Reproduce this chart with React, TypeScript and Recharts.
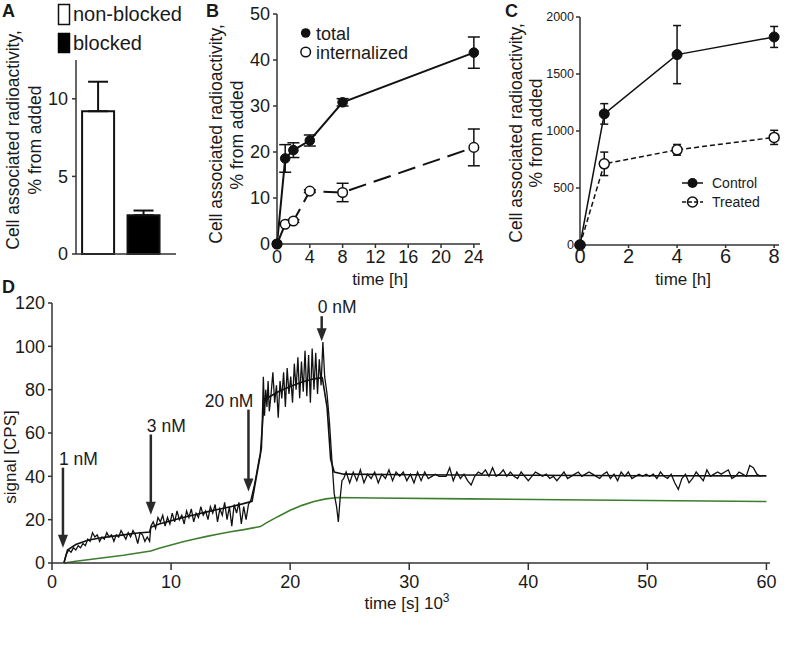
import React from 'react';
import { BarChart, Bar, Cell, ErrorBar, XAxis, YAxis, LineChart, Line, ReferenceLine } from 'recharts';

const FONT = '"Liberation Sans", Arial, Helvetica, sans-serif';
const INK = '#1a1a1a';
const AXIS = '#333333';

// ---------- Panel A ----------
const groupsA = ['non-blocked', 'blocked'];
const slotA = [1, 2];
const uptakeA = [9.2, 2.5];
const upperErrA = [1.9, 0.3];
const fillsA = ['#ffffff', '#000000'];

// ---------- Panel B ----------
const timeB = [0, 1, 2, 4, 8, 24];
const totalB = [0, 18.6, 20.4, 22.5, 30.8, 41.6];
const totalErrB = [0, 3.0, 1.6, 1.2, 0.8, 3.4];
const internalB = [0, 4.3, 5.0, 11.5, 11.2, 21.0];
const internalErrB = [0, 0.2, 0.3, 0.3, 2.0, 4.0];

// ---------- Panel C ----------
const timeC = [0, 1, 4, 8];
const controlC = [0, 1150, 1670, 1825];
const controlErrC = [0, 90, 255, 92];
const treatedC = [0, 712, 835, 944];
const treatedErrC = [0, 103, 47, 62];

// ---------- Panel D (time in 10^3 s, signal in CPS) ----------
const rawD: [number, number][] = [
  [1.0, 0], [1.2, 4], [1.4, 6], [1.6, 5], [1.8, 7], [2.0, 6], [2.2, 8], [2.4, 7], [2.6, 9], [2.8, 8],
  [3.0, 11], [3.2, 10], [3.4, 14], [3.6, 12], [3.8, 13], [4.0, 10], [4.2, 12], [4.4, 11], [4.6, 14], [4.8, 12],
  [5.0, 13], [5.2, 10], [5.4, 13], [5.6, 12], [5.8, 15], [6.0, 13], [6.2, 11], [6.4, 14], [6.6, 12], [6.8, 15],
  [7.0, 13], [7.2, 9], [7.4, 14], [7.6, 13], [7.8, 10], [8.0, 12], [8.2, 10],
  [8.3, 17], [8.5, 19], [8.7, 16], [8.9, 21], [9.1, 19], [9.3, 22], [9.5, 17], [9.7, 21], [9.9, 18], [10.1, 23],
  [10.3, 19], [10.5, 24], [10.7, 20], [10.9, 22], [11.1, 18], [11.3, 24], [11.5, 21], [11.7, 25], [11.9, 19],
  [12.1, 23], [12.3, 21], [12.5, 26], [12.7, 22], [12.9, 24], [13.1, 20], [13.3, 26], [13.5, 23], [13.7, 27],
  [13.9, 19], [14.1, 25], [14.3, 22], [14.5, 28], [14.7, 20], [14.9, 26], [15.1, 17], [15.3, 27], [15.5, 23],
  [15.7, 28], [15.9, 18], [16.1, 26], [16.3, 20], [16.5, 27], [16.7, 29],
  [17.0, 36], [17.4, 48], [17.6, 53], [17.75, 86], [17.85, 68], [17.95, 80], [18.05, 72], [18.15, 84], [18.25, 70],
  [18.4, 78], [18.55, 88], [18.7, 74], [18.85, 82], [19.0, 67], [19.15, 84], [19.3, 76], [19.45, 88], [19.6, 72],
  [19.75, 90], [19.9, 78], [20.05, 86], [20.2, 74], [20.35, 92], [20.5, 80], [20.65, 95], [20.8, 76], [20.95, 93],
  [21.1, 79], [21.25, 98], [21.4, 77], [21.55, 96], [21.7, 74], [21.85, 99], [22.0, 80], [22.15, 97], [22.3, 78],
  [22.45, 94], [22.6, 82], [22.75, 102], [22.9, 86], [23.1, 78], [23.3, 65], [23.5, 48], [23.7, 32], [23.9, 26],
  [24.05, 19], [24.2, 30], [24.35, 38], [24.5, 39],
  [24.7, 42], [25.0, 37], [25.3, 42], [25.6, 38], [25.9, 43], [26.2, 37], [26.5, 41], [26.8, 39], [27.1, 42],
  [27.4, 37], [27.7, 41], [28.0, 39], [28.3, 43], [28.6, 38], [28.9, 42], [29.2, 40], [29.5, 42], [29.8, 38],
  [30.1, 41], [30.4, 37], [30.7, 42], [31.0, 38], [31.3, 42], [31.6, 39], [31.9, 40], [32.2, 41], [32.5, 40],
  [32.8, 40], [33.1, 40], [33.4, 44], [33.7, 38], [34.0, 42], [34.3, 39], [34.6, 41], [34.9, 38], [35.2, 36],
  [35.5, 40], [35.8, 42], [36.1, 41], [36.4, 43], [36.7, 40], [37.0, 44], [37.3, 40], [37.6, 41], [37.9, 43],
  [38.2, 40], [38.5, 42], [38.8, 40], [39.1, 39], [39.4, 42], [39.7, 40], [40.0, 38], [40.3, 40], [40.6, 42],
  [40.9, 41], [41.2, 40], [41.5, 41], [41.8, 39], [42.1, 40], [42.4, 38], [42.7, 40], [43.0, 42], [43.3, 39],
  [43.6, 40], [43.9, 41], [44.2, 42], [44.5, 40], [44.8, 41], [45.1, 42], [45.4, 41], [45.7, 40], [46.0, 39],
  [46.3, 41], [46.6, 42], [46.9, 39], [47.2, 41], [47.5, 38], [47.8, 42], [48.1, 40], [48.4, 42], [48.7, 39],
  [49.0, 40], [49.3, 41], [49.6, 40], [49.9, 41], [50.2, 40], [50.5, 41], [50.8, 39], [51.1, 42], [51.4, 40],
  [51.7, 39], [52.0, 41], [52.3, 37], [52.6, 34], [52.9, 39], [53.2, 41], [53.5, 37], [53.8, 39], [54.1, 42],
  [54.4, 40], [54.7, 38], [55.0, 43], [55.3, 40], [55.6, 41], [55.9, 42], [56.2, 41], [56.5, 42], [56.8, 43],
  [57.1, 39], [57.4, 40], [57.7, 42], [58.0, 41], [58.3, 40], [58.6, 45], [58.9, 44], [59.2, 41], [59.5, 40],
];

const fitD: [number, number][] = [
  [1.0, 0], [1.3, 6], [2, 8.5], [3, 10.5], [4, 11.5], [5, 12.3], [6, 13], [7, 13.7], [8.2, 14.3],
  [8.3, 16.5], [9, 18], [10, 19.5], [11, 21], [12, 22.3], [13, 23.6], [14, 24.8], [15, 26], [16, 27.3],
  [16.8, 28.5], [17.5, 50], [17.8, 74], [18.2, 76.5], [19, 79], [20, 81.5], [21, 83.5], [22, 85], [22.7, 85.5],
  [23.1, 72], [23.4, 48], [23.7, 42], [24.5, 41], [30, 40.7], [40, 40.5], [50, 40.3], [60, 40.2],
];

const refD: [number, number][] = [
  [1.0, 0], [2, 0.8], [4, 2.2], [6, 3.6], [8.3, 5.5], [9, 6.8], [10, 8.3], [11, 9.8], [12, 11.1], [13, 12.3],
  [14, 13.4], [15, 14.4], [16, 15.3], [17.5, 16.8], [18, 18.5], [19, 21.5], [20, 24.3], [21, 26.6], [22, 28.4],
  [23, 29.6], [24, 30.2], [27, 30], [35, 29.6], [45, 29.1], [55, 28.6], [60, 28.4],
];

const arrowT = [0.92, 8.3, 16.5, 22.65];
const arrowFrom = [44, 59.3, 70.8, 113.9];
const arrowTo = [7, 22.3, 33, 102.4];
const arrowLabels = ['1 nM', '3 nM', '20 nM', '0 nM'];

const ticksB = [0, 4, 8, 12, 16, 20, 24];
const ticksC = [0, 2, 4, 6, 8];
const ticksCy = [0, 500, 1000, 1500, 2000];
const ticksDx = [0, 10, 20, 30, 40, 50, 60];
const ticksDy = [0, 20, 40, 60, 80, 100, 120];

// ---------- built tables ----------
const dataA = groupsA.map((g, i) => ({ group: g, slot: slotA[i], value: uptakeA[i], err: [0, upperErrA[i]] }));
const dataB = timeB.map((t, i) => ({ t, total: totalB[i], totalErr: totalErrB[i], internal: internalB[i], internalErr: internalErrB[i] }));
const dataC = timeC.map((t, i) => ({ t, control: controlC[i], controlErr: controlErrC[i], treated: treatedC[i], treatedErr: treatedErrC[i] }));
const rawRows = rawD.map(([t, v]) => ({ t, v }));
const fitRows = fitD.map(([t, v]) => ({ t, v }));
const refRows = refD.map(([t, v]) => ({ t, v }));

const W = 787;
const H = 653;

const layer: React.CSSProperties = { position: 'absolute', left: 0, top: 0, width: W, height: H };
const axisLine = { stroke: AXIS, strokeWidth: 1.5 };

const arrowShape = (label: string, anchorEnd: boolean) => (props: any) => {
  const { x1, y1, x2, y2 } = props;
  const head = 13;
  const half = 5;
  return (
    <g>
      <line x1={x1} y1={y1} x2={x2} y2={y2 - head + 1} stroke="#2a2a2a" strokeWidth={2.5} />
      <polygon points={`${x2 - half},${y2 - head} ${x2 + half},${y2 - head} ${x2},${y2}`} fill="#2a2a2a" />
      <text x={anchorEnd ? x1 + 5 : x1 - 4} y={y1 - 3} textAnchor={anchorEnd ? 'end' : 'start'} fontSize={17.5} fill={INK} fontFamily={FONT}>
        {label}
      </text>
    </g>
  );
};

export default function App() {
  return (
    <div style={{ position: 'absolute', left: 0, top: 0, width: W, height: H, background: '#fff', fontFamily: FONT, overflow: 'hidden' }}>
      {/* Panel A */}
      <div style={layer}>
        <BarChart width={W} height={H} data={dataA} margin={{ top: 60, left: 36, right: W - 176, bottom: H - 254 - 20 }}>
          <XAxis dataKey="slot" type="number" domain={[0.52, 2.72]} ticks={slotA} height={20} tick={false} tickSize={5} tickLine={{ stroke: AXIS, strokeWidth: 1.5 }} axisLine={axisLine} />
          <YAxis width={40} domain={[0, 12.5]} ticks={[0, 5, 10]} tickSize={4} tickMargin={4} axisLine={axisLine} tickLine={{ stroke: AXIS, strokeWidth: 1.5 }} tick={{ fontSize: 18, fill: INK }} />
          <Bar dataKey="value" barSize={32} stroke="#111" strokeWidth={2} isAnimationActive={false}>
            {dataA.map((d, i) => (
              <Cell key={d.group} fill={fillsA[i]} />
            ))}
            <ErrorBar dataKey="err" width={10} stroke="#111" strokeWidth={2} />
          </Bar>
        </BarChart>
      </div>

      {/* Panel B */}
      <div style={layer}>
        <LineChart width={W} height={H} data={dataB} margin={{ top: 14, left: 237, right: W - 480, bottom: H - 244 - 30 }}>
          <XAxis dataKey="t" type="number" domain={[0, 24.75]} ticks={ticksB} height={30} tickSize={4} tickMargin={2} axisLine={axisLine} tickLine={{ stroke: AXIS, strokeWidth: 1.5 }} tick={{ fontSize: 18, fill: INK }} />
          <YAxis width={40} domain={[0, 50]} ticks={[0, 10, 20, 30, 40, 50]} tickSize={4} tickMargin={3} axisLine={axisLine} tickLine={{ stroke: AXIS, strokeWidth: 1.5 }} tick={{ fontSize: 18, fill: INK }} />
          <Line dataKey="internal" type="linear" stroke="#111" strokeWidth={2} strokeDasharray="18 8" isAnimationActive={false}
            dot={{ r: 4.8, fill: '#fff', stroke: '#111', strokeWidth: 1.5, strokeDasharray: 'none' }}>
            <ErrorBar dataKey="internalErr" width={6} stroke="#111" strokeWidth={1.5} />
          </Line>
          <Line dataKey="total" type="linear" stroke="#111" strokeWidth={2} isAnimationActive={false}
            dot={{ r: 4.8, fill: '#111', stroke: '#111', strokeWidth: 1 }}>
            <ErrorBar dataKey="totalErr" width={6} stroke="#111" strokeWidth={1.5} />
          </Line>
        </LineChart>
      </div>

      {/* Panel C */}
      <div style={layer}>
        <LineChart width={W} height={H} data={dataC} margin={{ top: 17, left: 540, right: W - 779, bottom: H - 245 - 30 }}>
          <XAxis dataKey="t" type="number" domain={[0, 8.2]} ticks={ticksC} height={30} tickSize={3} tickMargin={1} axisLine={axisLine} tickLine={{ stroke: AXIS, strokeWidth: 1.5 }} tick={{ fontSize: 20, fill: INK }} />
          <YAxis width={40} domain={[0, 2000]} ticks={ticksCy} tickSize={4} tickMargin={2} axisLine={axisLine} tickLine={{ stroke: AXIS, strokeWidth: 1.5 }} tick={{ fontSize: 12.5, fill: INK }} />
          <Line dataKey="treated" type="linear" stroke="#111" strokeWidth={1.5} strokeDasharray="5 3" isAnimationActive={false}
            dot={{ r: 5, fill: '#fff', stroke: '#111', strokeWidth: 1.5, strokeDasharray: 'none' }}>
            <ErrorBar dataKey="treatedErr" width={4} stroke="#111" strokeWidth={1.5} />
          </Line>
          <Line dataKey="control" type="linear" stroke="#111" strokeWidth={1.5} isAnimationActive={false}
            dot={{ r: 5, fill: '#111', stroke: '#111', strokeWidth: 1 }}>
            <ErrorBar dataKey="controlErr" width={4} stroke="#111" strokeWidth={1.5} />
          </Line>
        </LineChart>
      </div>

      {/* Panel D */}
      <div style={layer}>
        <LineChart width={W} height={H} margin={{ top: 303, left: 2, right: W - 770, bottom: H - 563 - 30 }}>
          <XAxis dataKey="t" type="number" domain={[0, 60.3]} ticks={ticksDx} height={30} tickSize={7} tickMargin={5} axisLine={axisLine} tickLine={{ stroke: AXIS, strokeWidth: 1.5 }} tick={{ fontSize: 18, fill: INK }} allowDuplicatedCategory={false} />
          <YAxis width={50} domain={[0, 120]} ticks={ticksDy} tickSize={4} tickMargin={3} axisLine={axisLine} tickLine={{ stroke: AXIS, strokeWidth: 1.5 }} tick={{ fontSize: 18, fill: INK }} />
          <Line data={refRows} dataKey="v" type="linear" stroke="#3d7d2e" strokeWidth={1.6} dot={false} isAnimationActive={false} />
          <Line data={rawRows} dataKey="v" type="linear" stroke="#111" strokeWidth={1.3} dot={false} isAnimationActive={false} />
          <Line data={fitRows} dataKey="v" type="linear" stroke="#111" strokeWidth={1.6} dot={false} isAnimationActive={false} />
          {arrowT.map((t, i) => (
            <ReferenceLine
              key={arrowLabels[i]}
              segment={[{ x: t, y: arrowFrom[i] }, { x: t, y: arrowTo[i] }]}
              ifOverflow="visible"
              shape={arrowShape(arrowLabels[i], arrowLabels[i] === '20 nM')}
            />
          ))}
        </LineChart>
      </div>

      {/* Text overlay: panel letters, axis titles, legends */}
      <svg width={W} height={H} style={{ position: 'absolute', left: 0, top: 0, pointerEvents: 'none' }} fontFamily={FONT} fill={INK}>
        <g fontWeight="bold" fontSize={18}>
          <text x={2} y={16.5}>A</text>
          <text x={206} y={16.5}>B</text>
          <text x={505} y={16.5}>C</text>
          <text x={2} y={293}>D</text>
        </g>

        {/* A legend */}
        <rect x={58.5} y={4.5} width={11} height={20} fill="#fff" stroke="#111" strokeWidth={1.5} />
        <text x={73} y={21} fontSize={20}>non-blocked</text>
        <rect x={58.5} y={33.5} width={11} height={19} fill="#000" stroke="#000" strokeWidth={1.5} />
        <text x={73} y={50} fontSize={20}>blocked</text>

        {/* A y title */}
        <text transform="translate(19,140) rotate(-90)" textAnchor="middle" fontSize={17.5}>Cell associated radioactivity,</text>
        <text transform="translate(41,140) rotate(-90)" textAnchor="middle" fontSize={17.5}>% from added</text>

        {/* B y title */}
        <text transform="translate(222,134) rotate(-90)" textAnchor="middle" fontSize={17.5}>Cell associated radioactivity,</text>
        <text transform="translate(243,135) rotate(-90)" textAnchor="middle" fontSize={17.5}>% from added</text>

        {/* B legend */}
        <circle cx={305.7} cy={33} r={4.8} fill="#111" />
        <text x={316} y={39.5} fontSize={18}>total</text>
        <circle cx={305.7} cy={52} r={4.8} fill="#fff" stroke="#111" strokeWidth={1.5} />
        <text x={316} y={58.5} fontSize={18}>internalized</text>

        <text x={380} y={285} textAnchor="middle" fontSize={17}>time [h]</text>

        {/* C y title */}
        <text transform="translate(521.5,133) rotate(-90)" textAnchor="middle" fontSize={17.5}>Cell associated radioactivity,</text>
        <text transform="translate(542,133) rotate(-90)" textAnchor="middle" fontSize={17.5}>% from added</text>

        {/* C legend */}
        <line x1={682} y1={183} x2={703} y2={183} stroke="#111" strokeWidth={1.5} />
        <circle cx={692.5} cy={183} r={5} fill="#111" />
        <text x={712} y={188} fontSize={14}>Control</text>
        <line x1={682} y1={202} x2={703} y2={202} stroke="#111" strokeWidth={1.5} strokeDasharray="4 2" />
        <circle cx={692.5} cy={202} r={5} fill="none" stroke="#111" strokeWidth={1.5} />
        <text x={712} y={207} fontSize={14}>Treated</text>

        <text x={683} y={285} textAnchor="middle" fontSize={17}>time [h]</text>

        {/* D titles */}
        <text transform="translate(15.5,457) rotate(-90)" textAnchor="middle" fontSize={17}>signal [CPS]</text>
        <text x={407} y={609} textAnchor="middle" fontSize={17}>
          time [s] 10<tspan dy={-7} fontSize={12}>3</tspan>
        </text>
      </svg>
    </div>
  );
}
